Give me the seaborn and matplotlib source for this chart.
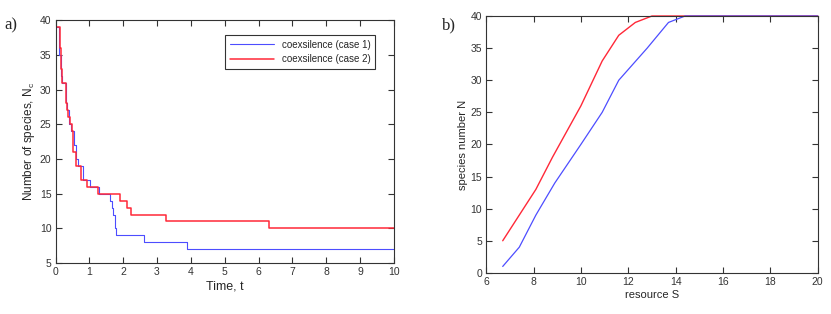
import numpy as np
import pandas as pd
import matplotlib
matplotlib.use("Agg")
import matplotlib.pyplot as plt
import seaborn as sns

# panel a: step curves of coexisting species over time
t_case1 = [0, 0.10, 0.15, 0.20, 0.30, 0.35, 0.40, 0.45, 0.55, 0.60, 0.65, 0.80, 1.03,
           1.28, 1.62, 1.67, 1.70, 1.75, 1.80, 2.62, 3.90, 10]
n_case1 = [39, 35, 32, 31, 28, 27, 25, 24, 22, 20, 19, 17, 16,
           15, 14, 13, 12, 10, 9, 8, 7, 7]
t_case2 = [0, 0.12, 0.15, 0.20, 0.30, 0.33, 0.38, 0.42, 0.48, 0.53, 0.62, 0.75, 0.92,
           1.25, 1.90, 2.10, 2.22, 3.27, 6.30, 10]
n_case2 = [39, 36, 33, 31, 28, 27, 26, 25, 24, 21, 19, 17, 16,
           15, 14, 13, 12, 11, 10, 10]

# panel b: species number vs resource
s_blue = [6.7, 7.4, 8.1, 8.9, 10.0, 10.9, 11.6, 12.8, 13.7, 14.4, 20]
n_blue = [1, 4, 9, 14, 20, 25, 30, 35, 39, 40, 40]
s_red = [6.7, 7.4, 8.1, 8.8, 10.0, 10.9, 11.6, 12.3, 13.0, 20]
n_red = [5, 9, 13, 18, 26, 33, 37, 39, 40, 40]

BLUE = "#4d4dff"
RED = "#ff2838"

sns.set_style("white")
plt.rcParams["font.family"] = ["Liberation Sans", "DejaVu Sans"]
plt.rcParams["mathtext.fontset"] = "custom"
plt.rcParams["mathtext.rm"] = "Liberation Sans"

fig = plt.figure(figsize=(8.31, 3.14), dpi=100)
ax1 = fig.add_axes([0.0668, 0.162, 0.4072, 0.774])
ax2 = fig.add_axes([0.585, 0.131, 0.399, 0.818])

df1 = pd.DataFrame({"t": t_case1, "n": n_case1})
df2 = pd.DataFrame({"t": t_case2, "n": n_case2})
sns.lineplot(data=df1, x="t", y="n", ax=ax1, color=BLUE, lw=0.8, sort=False,
             estimator=None, drawstyle="steps-post", label="coexsilence (case 1)")
sns.lineplot(data=df2, x="t", y="n", ax=ax1, color=RED, lw=1.1, sort=False,
             estimator=None, drawstyle="steps-post", label="coexsilence (case 2)")
ax1.set_xlim(0, 10)
ax1.set_ylim(5, 40)
ax1.set_xticks(range(0, 11))
ax1.set_yticks(range(5, 41, 5))
ax1.set_xlabel("Time, t", fontsize=9, labelpad=2)
ax1.set_ylabel(r"Number of species, N$_\mathregular{c}$", fontsize=8.5, labelpad=2)
leg = ax1.legend(loc="upper right", fontsize=7, frameon=True, fancybox=False,
                 borderpad=0.5, handlelength=4.5, bbox_to_anchor=(0.96, 0.96))
leg.get_frame().set_edgecolor("black")
leg.get_frame().set_linewidth(0.8)

dfb = pd.DataFrame({"s": s_blue, "n": n_blue})
dfr = pd.DataFrame({"s": s_red, "n": n_red})
sns.lineplot(data=dfr, x="s", y="n", ax=ax2, color=RED, lw=1.0, sort=False,
             estimator=None, clip_on=False)
sns.lineplot(data=dfb, x="s", y="n", ax=ax2, color=BLUE, lw=0.9, sort=False,
             estimator=None, clip_on=False)
ax2.set_xlim(6, 20)
ax2.set_ylim(0, 40)
ax2.set_xticks(range(6, 21, 2))
ax2.set_yticks(range(0, 41, 5))
ax2.set_xlabel("resource S", fontsize=8, labelpad=2)
ax2.set_ylabel("species number N", fontsize=8, labelpad=2)

for ax in (ax1, ax2):
    ax.tick_params(direction="in", length=4, width=0.8, labelsize=7.5,
                   bottom=True, left=True, top=True, right=True,
                   color="#333333", labelcolor="#333333", pad=3)
    for sp in ax.spines.values():
        sp.set_color("#333333")
        sp.set_linewidth(0.8)

fig.text(0.005, 0.905, "a)", fontsize=12, family="Liberation Serif")
fig.text(0.532, 0.905, "b)", fontsize=12, family="Liberation Serif")

fig.savefig("out.png", dpi=100)
